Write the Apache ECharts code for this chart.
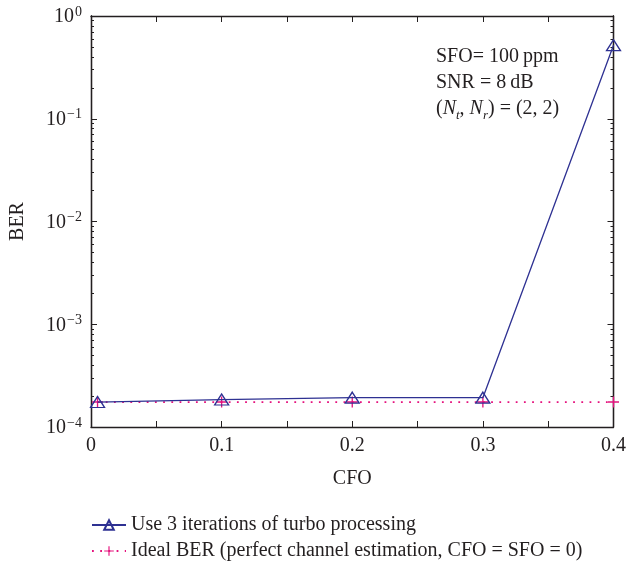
<!DOCTYPE html>
<html lang="en">
<head>
    <meta charset="utf-8">
    <title>BER vs CFO</title>
    <style>
* {
  margin: 0;
  padding: 0;
}
#chart-container {
  position: relative;
  width: 629px;
  height: 563px;
  overflow: hidden;
  background: #fff;
}
    </style>
</head>
<body>
<div id="chart-container"></div>
<script src="https://fastly.jsdelivr.net/npm/echarts@6/dist/echarts.min.js"></script>
<script>
// values
let cfo = [0.005, 0.1, 0.2, 0.3, 0.4];
let berTurbo = [1.75e-4, 1.85e-4, 1.93e-4, 1.93e-4, 0.52];
let berIdeal = [1.75e-4, 1.75e-4, 1.75e-4, 1.75e-4, 1.75e-4];
let decades = [1e-4, 1e-3, 1e-2, 1e-1, 1];
let xLabels = [0, 0.1, 0.2, 0.3, 0.4];
let names = ['Use 3 iterations of turbo processing', 'Ideal BER (perfect channel estimation, CFO = SFO = 0)'];

let minorVals = [];
for (let d = -4; d < 0; d++) {
  for (let m = 2; m <= 9; m++) {
    minorVals.push(m * Math.pow(10, d));
  }
}

let serif = '"Liberation Serif", "DejaVu Serif", serif';
let ink = '#231f20';
let blue = '#2e3192';
let pink = '#e5127d';
let plus = 'path://M4.4,0H5.6V4.4H10V5.6H5.6V10H4.4V5.6H0V4.4H4.4Z';

var dom = document.getElementById('chart-container');
var myChart = echarts.init(dom, null, {
  renderer: 'canvas',
  useDirtyRect: false
});

function logAxis(pos, ticks, len, labels) {
  return {
    type: 'log',
    logBase: 10,
    min: 1e-4,
    max: 1,
    position: pos,
    name: labels ? 'BER' : '',
    nameLocation: 'middle',
    nameGap: 63,
    nameTextStyle: { fontFamily: serif, fontSize: 20, color: ink },
    axisLine: { show: true, lineStyle: { color: ink, width: 1.3 } },
    axisTick: {
      show: true,
      inside: true,
      length: len,
      customValues: ticks,
      lineStyle: { color: ink, width: 1 }
    },
    axisLabel: {
      show: labels,
      customValues: decades,
      margin: 9,
      formatter: function (v) {
        let e = Math.round(Math.log10(v));
        return '{b|10}{s|' + (e < 0 ? '\u2212' + (-e) : e) + '}';
      },
      rich: {
        b: { fontFamily: serif, fontSize: 20, color: ink, lineHeight: 22, verticalAlign: 'bottom' },
        s: { fontFamily: serif, fontSize: 14, color: ink, lineHeight: 22, verticalAlign: 'top', padding: [0, 0, 10, 1] }
      }
    },
    splitLine: { show: false }
  };
}

function linAxis(pos, labels) {
  return {
    type: 'value',
    min: 0,
    max: 0.4,
    interval: 0.05,
    position: pos,
    name: labels ? 'CFO' : '',
    nameLocation: 'middle',
    nameGap: 42,
    nameTextStyle: { fontFamily: serif, fontSize: 20, color: ink },
    axisLine: { show: true, lineStyle: { color: ink, width: 1.3 } },
    axisTick: { show: true, inside: true, length: 6, lineStyle: { color: ink } },
    axisLabel: {
      show: labels,
      customValues: xLabels,
      margin: 9,
      fontFamily: serif,
      fontSize: 20,
      color: ink
    },
    splitLine: { show: false }
  };
}

function legendRow(name, top) {
  return {
    orient: 'horizontal',
    left: 86,
    top: top,
    itemWidth: 34,
    itemHeight: 12,
    textStyle: { fontFamily: serif, fontSize: 20, color: ink },
    data: [name]
  };
}

function pairs(xs, ys) {
  return xs.map(function (x, i) { return [x, ys[i]]; });
}

var option = {
  animation: false,
  grid: { left: 91, right: 15, top: 16, bottom: 136 },
  xAxis: [linAxis('bottom', true), linAxis('top', false)],
  yAxis: [
    logAxis('left', decades, 6, true),
    logAxis('left', minorVals, 3, false),
    logAxis('right', decades, 6, false),
    logAxis('right', minorVals, 3, false)
  ],
  legend: [legendRow(names[0], 510), legendRow(names[1], 536)],
  graphic: [
    {
      type: 'text',
      left: 436,
      top: 44,
      style: {
        text: 'SFO= 100\u2009ppm\nSNR = 8\u2009dB\n{p|(}{i|N}{sub|t}{p|, }{i|N}{sub|r}{p|) = (2, 2)}',
        fontFamily: serif,
        fontSize: 20,
        lineHeight: 26,
        fill: ink,
        rich: {
          p: { fontFamily: serif, fontSize: 20, fill: ink, lineHeight: 26 },
          i: { fontFamily: serif, fontSize: 20, fontStyle: 'italic', fill: ink, lineHeight: 26 },
          sub: { fontFamily: serif, fontSize: 13, fontStyle: 'italic', fill: ink, lineHeight: 26, verticalAlign: 'bottom' }
        }
      }
    }
  ],
  series: [
    {
      name: names[1],
      type: 'line',
      data: pairs(cfo, berIdeal),
      clip: false,
      symbol: plus,
      symbolSize: 11,
      itemStyle: { color: pink },
      lineStyle: { color: pink, width: 1.8, type: [1.8, 6.4] },
      z: 2
    },
    {
      name: names[0],
      type: 'line',
      data: pairs(cfo, berTurbo),
      clip: false,
      symbol: 'triangle',
      symbolSize: [14, 11],
      itemStyle: { color: 'rgba(0,0,0,0)', borderColor: blue, borderWidth: 1.3 },
      lineStyle: { color: blue, width: 1.3 },
      z: 3
    }
  ]
};

if (option && typeof option === 'object') {
  myChart.setOption(option);
}

window.addEventListener('resize', myChart.resize);
</script>
</body>
</html>
